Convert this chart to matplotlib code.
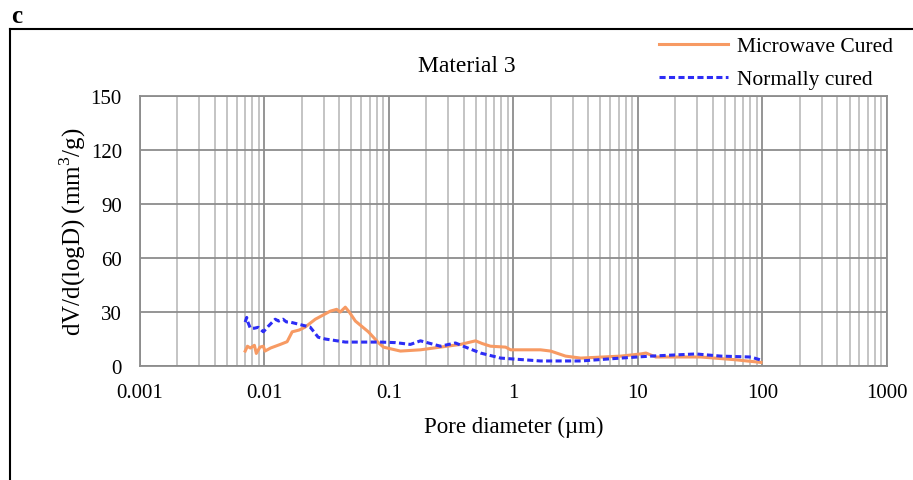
import matplotlib.pyplot as plt
from matplotlib.lines import Line2D
from matplotlib.ticker import LogLocator, FixedLocator, NullFormatter

plt.rcParams['font.family'] = ['Liberation Serif', 'DejaVu Serif']
plt.rcParams['mathtext.fontset'] = 'custom'
plt.rcParams['mathtext.rm'] = 'Liberation Serif'

# pore diameter (um) and dV/d(logD) (mm3/g)
mw_d = [0.0070, 0.0073, 0.0077, 0.0083, 0.0086, 0.0092, 0.0098, 0.0101, 0.0112,
        0.0134, 0.0152, 0.0167, 0.0190, 0.0212, 0.0235, 0.0256, 0.0290, 0.0338,
        0.0380, 0.0406, 0.0446, 0.0480, 0.0537, 0.0683, 0.0822, 0.0902, 0.1236,
        0.179, 0.259, 0.375, 0.496, 0.560, 0.654, 0.864, 0.948, 1.65, 1.99,
        2.62, 3.47, 7.27, 10.5, 11.6, 13.9, 32.0, 60.0, 97.2]
mw_v = [8.3, 11.0, 10.0, 11.5, 7.0, 10.5, 11.0, 8.3, 10.0,
        12.0, 13.5, 19.0, 20.0, 21.6, 24.0, 26.0, 28.0, 30.5,
        31.5, 30.0, 32.7, 30.0, 25.0, 19.0, 13.0, 10.5, 8.3,
        9.0, 10.5, 12.0, 14.0, 12.5, 11.0, 10.5, 9.0, 9.0, 8.3,
        5.5, 4.4, 5.5, 6.7, 7.2, 5.0, 5.0, 3.5, 2.0]

nc_d = [0.0070, 0.0072, 0.0073, 0.0077, 0.0083, 0.0089, 0.0098, 0.0107, 0.0122,
        0.0130, 0.0141, 0.0150, 0.0161, 0.0194, 0.0233, 0.0270, 0.0308, 0.0446,
        0.0853, 0.1126, 0.1486, 0.179, 0.259, 0.342, 0.412, 0.544, 0.788,
        1.65, 3.47, 7.27, 12.7, 29.2, 46.3, 80.7, 97.2]
nc_v = [24.4, 27.0, 25.0, 21.0, 21.0, 21.5, 19.0, 22.0, 26.0,
        25.0, 26.0, 24.5, 24.4, 23.0, 21.6, 16.0, 15.0, 13.3,
        13.3, 13.0, 12.0, 14.0, 11.0, 12.8, 10.5, 7.2, 4.4,
        2.8, 2.8, 4.4, 5.5, 6.7, 5.5, 5.0, 3.3]

fig = plt.figure(figsize=(9.13, 4.81), dpi=100)
ax = fig.add_axes([0.1533, 0.237, 0.8182, 0.561])

ax.plot(mw_d, mw_v, color='#F79A63', lw=2.2, label='Microwave Cured')
ax.plot(nc_d, nc_v, color='#2D2DF5', lw=2.2, ls=(0, (2.0, 1.1)), label='Normally cured')

ax.set_xscale('log')
ax.set_xlim(0.001, 1000)
ax.set_ylim(0, 150)
ax.set_yticks([0, 30, 60, 90, 120, 150])
ax.xaxis.set_major_locator(FixedLocator([0.001, 0.01, 0.1, 1, 10, 100, 1000]))
ax.set_xticklabels(['0.001', '0.01', '0.1', '1', '10', '100', '1000'])
ax.xaxis.set_minor_locator(LogLocator(base=10, subs=range(2, 10), numticks=20))
ax.xaxis.set_minor_formatter(NullFormatter())

ax.grid(which='major', color='#8c8c8c', lw=1.3)
ax.grid(which='minor', axis='x', color='#bfbfbf', lw=1.3)
ax.set_axisbelow(True)
for s in ax.spines.values():
    s.set_color('#8c8c8c')
    s.set_linewidth(1.3)
ax.tick_params(which='both', length=0, labelsize=15)
ax.tick_params(axis='x', pad=12)
ax.tick_params(axis='y', pad=13)

ax.set_xlabel('Pore diameter (\u00b5m)', fontsize=16.5, labelpad=10)
ax.set_ylabel('dV/d(logD) (mm$^3$/g)', fontsize=18, labelpad=2)

fig.text(0.511, 0.861, 'Material 3', fontsize=17, ha='center', va='center')
fig.text(0.012, 0.965, 'c', fontsize=18, fontweight='bold', ha='left', va='center')

fig.legend(loc='upper right', bbox_to_anchor=(0.978, 0.923), frameon=False,
           fontsize=15.5, handlelength=3.2, handletextpad=0.4, labelspacing=0.6,
           borderaxespad=0, borderpad=0)

# panel border (top and left only)
fig.add_artist(Line2D([0.011, 1.0], [0.937, 0.937], color='black', lw=1.5,
                      transform=fig.transFigure))
fig.add_artist(Line2D([0.011, 0.011], [0.0, 0.937], color='black', lw=1.5,
                      transform=fig.transFigure))

fig.savefig('out.png', dpi=100)
